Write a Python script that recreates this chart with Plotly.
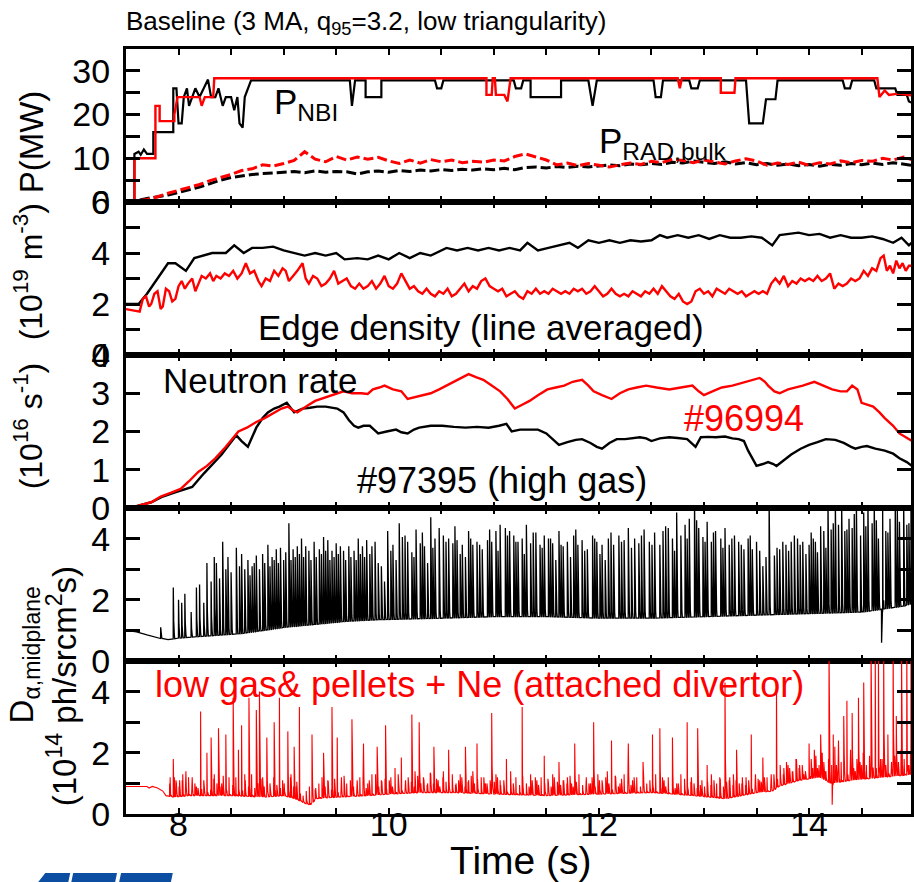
import numpy as np
import plotly.graph_objects as go

FONT = "Liberation Sans, Arial, Helvetica, sans-serif"
BLACK = "#000000"
RED = "#ff0000"

# ---------------- Panel 1: powers (MW) ----------------
NBI_B_T = [7.50, 7.58, 7.58, 7.62, 7.64, 7.67, 7.70, 7.76, 7.76, 7.95, 7.95, 7.98, 8.00, 8.03, 8.05, 8.08, 8.10, 8.13,
           8.16, 8.20, 8.24, 8.28, 8.31, 8.35, 8.38, 8.42, 8.45, 8.50, 8.53, 8.56, 8.58, 8.61, 8.63, 8.66, 8.69,
           9.63, 9.65, 9.68, 9.78, 9.78, 9.93, 9.93, 10.44, 10.46, 10.50, 10.52, 11.19, 11.21, 11.26, 11.28,
           11.35, 11.35, 11.64, 11.64, 11.90, 11.94, 11.98, 12.52, 12.54, 12.59, 12.61, 12.86, 12.88, 12.94, 12.96,
           13.40, 13.43, 13.56, 13.59, 13.68, 13.70, 14.32, 14.34, 14.39, 14.41, 14.62, 14.64, 14.82, 14.84,
           14.93, 14.95, 15.00]
NBI_B_V = [0, 0, 11, 11.5, 10.8, 12, 11, 11, 16, 16, 26, 26, 18, 18, 24, 26, 22, 24,
           26, 24, 26, 28, 24, 24, 26, 22, 24, 24, 21, 24, 18, 17, 24, 26, 27.8,
           27.8, 22, 27.8, 27.8, 24, 24, 27.8, 27.8, 26, 26, 27.8, 27.8, 26, 26, 27.8,
           27.8, 24, 24, 27.8, 27.8, 22, 27.8, 27.8, 24, 24, 27.8, 27.8, 26, 26, 27.8,
           27.8, 18, 18, 23.5, 23.5, 27.8, 27.8, 26, 26, 27.8, 27.8, 26, 26, 24.5,
           24.5, 23, 22.5]

NBI_R_T = [7.50, 7.58, 7.58, 7.78, 7.78, 7.82, 7.82, 7.96, 7.96, 7.99, 8.20, 8.22, 8.25, 8.33, 8.34,
           10.93, 10.93, 10.98, 10.99, 11.01, 11.02, 11.10, 11.13, 11.16, 12.75, 12.77, 12.79,
           13.16, 13.16, 13.29, 13.30, 14.65, 14.67, 14.72, 14.76, 14.85, 15.00]
NBI_R_V = [0, 0, 10, 10, 22, 22, 18.5, 18.5, 20, 24, 24, 22, 24, 24, 28.3,
           28.3, 24.5, 24.5, 28.3, 28.3, 24.5, 24.5, 23, 28.3, 28.3, 26, 28.3,
           28.3, 25, 25, 28.3, 28.3, 24, 25.5, 24.5, 24.8, 24.3]

PRAD_T = [7.5, 7.6, 7.7, 7.8, 7.9, 8.0, 8.1, 8.2, 8.3, 8.4, 8.5, 8.6, 8.7, 8.8, 8.9, 9.0, 9.1, 9.2, 9.3, 9.4,
          9.5, 9.6, 9.7, 9.8, 9.9, 10.0, 10.1, 10.2, 10.3, 10.4, 10.5, 10.6, 10.7, 10.8, 10.9, 11.0, 11.1, 11.2,
          11.3, 11.4, 11.5, 11.6, 11.7, 11.8, 11.9, 12.0, 12.1, 12.2, 12.3, 12.4, 12.5, 12.6, 12.7, 12.8, 12.9,
          13.0, 13.1, 13.2, 13.3, 13.4, 13.5, 13.6, 13.7, 13.8, 13.9, 14.0, 14.1, 14.2, 14.3, 14.4, 14.5, 14.6,
          14.7, 14.8, 14.9, 15.0]
PRAD_B = [0.0, 0.3, 0.8, 1.2, 1.6, 2.2, 2.8, 3.4, 4.2, 5.0, 5.6, 6.0, 6.3, 6.5, 6.6, 6.8, 7.0, 6.7, 7.1, 6.8,
          7.0, 6.9, 6.4, 6.9, 7.1, 6.8, 7.2, 7.0, 7.3, 7.1, 7.4, 7.2, 7.5, 7.3, 7.6, 7.4, 7.7, 7.4, 7.9,
          8.0, 7.8, 8.1, 7.9, 8.2, 8.0, 8.3, 8.5, 8.3, 8.7, 8.5, 8.8, 8.6, 9.1, 8.9, 9.4, 9.1, 8.8, 9.2, 8.7,
          9.0, 8.5, 8.8, 8.4, 8.7, 8.3, 8.6, 8.2, 8.6, 8.4, 8.8, 8.5, 8.9, 8.6, 9.0, 8.7, 8.3]
PRAD_R = [0.0, 0.2, 0.6, 1.2, 2.0, 2.7, 3.3, 4.0, 4.9, 5.6, 6.3, 7.2, 7.6, 8.5, 8.2, 8.8, 9.5, 11.5, 9.8, 9.2,
          10.4, 9.6, 10.3, 9.8, 10.2, 9.4, 8.8, 9.6, 8.9, 9.7, 9.2, 9.6, 9.0, 9.3, 9.1, 9.6, 9.4, 10.4,
          11.0, 10.3, 9.6, 8.5, 8.9, 8.3, 8.8, 8.4, 8.0, 8.5, 8.9, 8.6, 9.3, 9.0, 9.8, 9.5, 9.0, 9.6, 9.1, 8.7,
          9.4, 9.9, 9.4, 8.4, 8.9, 8.6, 9.1, 8.4, 9.0, 8.7, 9.4, 9.0, 9.5, 9.3, 10.0, 9.6, 10.3, 9.5]

# ---------------- Panel 2: edge density (1e19 m^-3) ----------------
NE_B_T = [7.50, 7.62, 7.70, 7.80, 7.90, 7.97, 8.07, 8.15, 8.25, 8.32, 8.45, 8.53, 8.62, 8.70, 8.80, 8.90, 9.00,
          9.10, 9.20, 9.30, 9.40, 9.50, 9.58, 9.70, 9.80, 9.90, 10.00, 10.10, 10.20, 10.30, 10.40, 10.55, 10.65,
          10.75, 10.85, 10.95, 11.05, 11.15, 11.25, 11.32, 11.42, 11.52, 11.62, 11.72, 11.80, 11.90, 12.00,
          12.10, 12.20, 12.30, 12.40, 12.50, 12.58, 12.65, 12.75, 12.85, 12.95, 13.05, 13.15, 13.25, 13.35,
          13.45, 13.55, 13.65, 13.72, 13.80, 13.90, 14.00, 14.10, 14.20, 14.30, 14.40, 14.50, 14.60, 14.70,
          14.80, 14.88, 14.95, 15.00]
NE_B_V = [2.0, 2.0, 2.4, 3.0, 3.6, 3.6, 3.3, 3.8, 3.9, 4.0, 4.0, 4.3, 4.0, 4.2, 4.2, 4.25, 4.1,
          4.0, 3.9, 4.0, 3.9, 4.0, 3.75, 3.8, 3.75, 3.9, 3.75, 4.0, 3.8, 4.0, 3.9, 4.2, 4.1,
          4.2, 4.1, 4.2, 4.1, 4.2, 4.1, 4.4, 4.1, 4.2, 4.3, 4.4, 4.2, 4.5, 4.4,
          4.5, 4.4, 4.5, 4.45, 4.5, 4.7, 4.6, 4.7, 4.6, 4.7, 4.55, 4.7, 4.6, 4.6,
          4.65, 4.6, 4.3, 4.7, 4.75, 4.8, 4.7, 4.75, 4.6, 4.7, 4.6, 4.6, 4.65, 4.55,
          4.4, 4.6, 4.3, 4.5]

NE_R_T = [7.50, 7.58, 7.63, 7.66, 7.69, 7.72, 7.74, 7.77, 7.80, 7.83, 7.85, 7.88, 7.91, 7.94, 7.97, 8.00, 8.03,
          8.06, 8.09, 8.13, 8.16, 8.19, 8.22, 8.26, 8.30, 8.33, 8.36, 8.40, 8.44, 8.48, 8.52, 8.56, 8.60, 8.64,
          8.68, 8.72, 8.76, 8.79, 8.83, 8.87, 8.91, 8.95, 8.99, 9.02, 9.05, 9.09, 9.13, 9.18, 9.21, 9.24, 9.28,
          9.32, 9.36, 9.40, 9.44, 9.48, 9.52, 9.56, 9.60, 9.64, 9.68, 9.72, 9.76, 9.80, 9.84, 9.88, 9.92, 9.96,
          10.00, 10.04, 10.08, 10.12, 10.16, 10.20, 10.24, 10.28, 10.32, 10.36, 10.40, 10.44, 10.48, 10.52,
          10.56, 10.60, 10.64, 10.68, 10.72, 10.76, 10.80, 10.84, 10.88, 10.92, 10.96, 11.00, 11.04, 11.08,
          11.12, 11.16, 11.20, 11.24, 11.28, 11.32, 11.36, 11.40, 11.44, 11.48, 11.52, 11.56, 11.60, 11.64,
          11.68, 11.72, 11.76, 11.80, 11.84, 11.88, 11.92, 11.96, 12.00, 12.04, 12.08, 12.12, 12.16, 12.20,
          12.24, 12.28, 12.32, 12.36, 12.40, 12.44, 12.48, 12.52, 12.56, 12.60, 12.64, 12.68, 12.72, 12.76,
          12.80, 12.84, 12.88, 12.92, 12.96, 13.00, 13.04, 13.08, 13.12, 13.16, 13.20, 13.24, 13.28, 13.32,
          13.36, 13.40, 13.44, 13.48, 13.52, 13.56, 13.60, 13.64, 13.68, 13.72, 13.76, 13.80, 13.84, 13.88,
          13.92, 13.96, 14.00, 14.04, 14.08, 14.12, 14.16, 14.20, 14.24, 14.28, 14.32, 14.36, 14.40, 14.44,
          14.48, 14.52, 14.56, 14.60, 14.64, 14.68, 14.71, 14.74, 14.77, 14.80, 14.83, 14.86, 14.89, 14.92,
          14.95, 14.98]
NE_R_V = [1.8, 1.75, 1.7, 2.2, 2.3, 1.9, 2.0, 2.4, 2.5, 1.8, 1.9, 2.6, 2.5, 2.1, 2.2, 2.7, 2.9,
          2.6, 2.8, 3.0, 2.5, 2.8, 3.1, 3.0, 3.2, 2.9, 3.1, 3.0, 3.2, 3.1, 3.3, 3.0, 3.2, 3.6,
          3.2, 3.3, 2.9, 2.7, 3.0, 2.9, 3.3, 3.1, 3.4, 3.3, 2.9, 3.1, 3.3, 3.6, 3.0, 2.8, 3.1,
          3.0, 2.7, 2.8, 3.0, 3.3, 2.8, 2.9, 3.0, 2.7, 2.6, 2.8, 2.6, 2.7, 2.9, 2.6, 2.8, 3.1,
          2.7, 2.6, 2.8, 3.2, 2.9, 2.6, 2.7, 2.5, 2.4, 2.6, 2.4, 2.3, 2.5, 2.4,
          2.6, 2.3, 2.4, 2.6, 2.8, 2.5, 2.7, 2.6, 2.9, 3.0, 2.7, 2.6, 2.5, 2.6,
          2.3, 2.4, 2.5, 2.3, 2.2, 2.5, 2.4, 2.6, 2.4, 2.5, 2.4, 2.6, 2.5, 2.4,
          2.5, 2.4, 2.6, 2.5, 2.6, 2.4, 2.5, 2.7, 2.5, 2.3, 2.4, 2.6, 2.4, 2.3,
          2.4, 2.3, 2.5, 2.4, 2.3, 2.5, 2.4, 2.6, 2.4, 2.7, 2.5, 2.3, 2.2, 2.4,
          2.1, 2.0, 2.1, 2.5, 2.6, 2.4, 2.5, 2.3, 2.6, 2.5, 2.4, 2.6, 2.5, 2.4,
          2.5, 2.3, 2.4, 2.5, 2.4, 2.5, 2.4, 2.8, 3.0, 2.8, 3.1, 2.7, 2.9, 2.8,
          3.0, 2.9, 3.0, 2.9, 3.1, 2.9, 3.0, 3.2, 2.6, 2.8, 2.7, 2.8, 3.0, 2.9,
          3.0, 3.3, 3.1, 3.4, 3.3, 3.8, 3.9, 3.3, 3.5, 3.2, 3.7, 3.4, 3.6, 3.3,
          3.5, 3.5]

# ---------------- Panel 3: neutron rate (1e16 s^-1) ----------------
NR_B_T = [7.50, 7.60, 7.74, 7.85, 7.96, 8.05, 8.13, 8.24, 8.33, 8.41, 8.48, 8.55, 8.60, 8.66, 8.74, 8.80, 8.85,
          8.91, 8.96, 9.03, 9.10, 9.18, 9.25, 9.32, 9.40, 9.46, 9.51, 9.57, 9.62, 9.67, 9.71, 9.76, 9.82, 9.86,
          9.90, 9.98, 10.07, 10.12, 10.18, 10.24, 10.29, 10.40, 10.51, 10.62, 10.73, 10.84, 10.95, 11.05, 11.12,
          11.17, 11.25, 11.34, 11.42, 11.50, 11.56, 11.62, 11.70, 11.78, 11.84, 11.92, 11.98, 12.03, 12.10,
          12.17, 12.25, 12.32, 12.39, 12.45, 12.50, 12.58, 12.67, 12.75, 12.84, 12.92, 12.97, 13.04, 13.11,
          13.20, 13.27, 13.33, 13.38, 13.42, 13.46, 13.50, 13.56, 13.61, 13.66, 13.69, 13.76, 13.83, 13.92,
          14.00, 14.08, 14.16, 14.25, 14.33, 14.40, 14.44, 14.50, 14.55, 14.63, 14.72, 14.80, 14.86, 14.93, 14.98]
NR_B_V = [0.0, 0.05, 0.15, 0.3, 0.4, 0.48, 0.55, 0.9, 1.15, 1.4, 1.65, 1.9, 1.75, 1.6, 2.1, 2.35, 2.5,
          2.6, 2.65, 2.75, 2.5, 2.6, 2.62, 2.65, 2.65, 2.63, 2.6, 2.5, 2.3, 2.15, 2.1, 2.15, 2.15, 2.05,
          1.95, 2.0, 2.05, 1.98, 1.95, 2.05, 2.1, 2.15, 2.15, 2.12, 2.1, 2.12, 2.1, 2.15, 2.2,
          2.0, 2.05, 2.05, 2.05, 1.95, 1.8, 1.65, 1.72, 1.78, 1.8, 1.7, 1.6, 1.55, 1.7,
          1.8, 1.8, 1.82, 1.85, 1.82, 1.75, 1.82, 1.85, 1.83, 1.8, 1.6, 1.85, 1.86, 1.85,
          1.87, 1.82, 1.8, 1.75, 1.5, 1.3, 1.1, 1.15, 1.2, 1.15, 1.1, 1.25, 1.4, 1.55,
          1.65, 1.72, 1.8, 1.78, 1.7, 1.6, 1.55, 1.6, 1.62, 1.55, 1.5, 1.42, 1.3, 1.2, 1.1]

NR_R_T = [7.50, 7.60, 7.74, 7.83, 7.93, 8.02, 8.10, 8.19, 8.27, 8.35, 8.45, 8.57, 8.65, 8.74, 8.82, 8.91,
          8.98, 9.04, 9.09, 9.13, 9.18, 9.24, 9.30, 9.35, 9.40, 9.46, 9.52, 9.57, 9.65, 9.74, 9.80, 9.85,
          9.91, 9.96, 10.04, 10.12, 10.18, 10.25, 10.32, 10.40, 10.48, 10.55, 10.62, 10.70, 10.76, 10.83,
          10.90, 10.98, 11.06, 11.13, 11.20, 11.27, 11.34, 11.42, 11.51, 11.59, 11.67, 11.75, 11.84, 11.90,
          11.95, 12.03, 12.12, 12.20, 12.28, 12.36, 12.45, 12.55, 12.67, 12.78, 12.89, 12.95, 13.00, 13.08,
          13.17, 13.27, 13.39, 13.46, 13.53, 13.58, 13.61, 13.67, 13.72, 13.80, 13.87, 13.94, 14.05, 14.13,
          14.22, 14.30, 14.36, 14.41, 14.46, 14.50, 14.55, 14.61, 14.67, 14.72, 14.80, 14.86, 14.92, 14.98]
NR_R_V = [0.0, 0.05, 0.15, 0.3, 0.4, 0.5, 0.7, 0.95, 1.1, 1.3, 1.6, 2.0, 2.1, 2.25, 2.35, 2.5,
          2.6, 2.65, 2.55, 2.5, 2.6, 2.7, 2.8, 2.85, 2.9, 2.95, 3.0, 3.05, 3.0, 3.0, 2.98, 3.1,
          3.15, 3.2, 3.1, 3.05, 2.85, 2.9, 2.95, 3.0, 3.1, 3.2, 3.3, 3.4, 3.5, 3.42,
          3.35, 3.2, 3.05, 2.85, 2.6, 2.7, 2.8, 2.95, 3.1, 3.15, 3.2, 3.3, 3.35, 3.2,
          3.05, 2.95, 2.85, 3.0, 3.1, 3.15, 3.2, 3.15, 3.1, 3.15, 3.2, 3.05, 2.95, 3.05,
          3.15, 3.2, 3.3, 3.35, 3.4, 3.3, 3.2, 3.05, 3.0, 3.1, 3.15, 3.2, 3.3, 3.2,
          3.1, 3.05, 3.05, 3.2, 3.1, 2.75, 2.7, 2.65, 2.5, 2.35, 2.15, 1.95, 1.85, 1.75]

# ---------------- Panel 4: D-alpha, #97395 (1e14 ph/sr cm^2 s) ----------------
DA_B_BASE_T = [7.50, 7.60, 7.70, 7.80, 7.90, 8.00, 8.20, 8.40, 8.60, 8.80, 9.00, 9.30, 9.60, 9.90, 10.50,
               11.00, 11.50, 12.00, 12.50, 13.00, 13.50, 14.00, 14.50, 14.90, 15.00]
DA_B_BASE_V = [1.0, 0.95, 0.85, 0.75, 0.7, 0.75, 0.8, 0.85, 0.9, 1.0, 1.1, 1.2, 1.3, 1.35, 1.4,
               1.45, 1.45, 1.4, 1.4, 1.45, 1.5, 1.55, 1.6, 1.8, 1.9]
DA_B_ELM_T = [7.83, 7.95, 8.00, 8.03, 8.06, 8.12, 8.17, 8.20, 8.24, 8.27, 8.31, 8.34, 8.36, 8.39, 8.42, 8.45,
              8.47, 8.50, 8.55, 8.58, 8.60, 8.63, 8.66, 8.68, 8.70, 8.72, 8.74, 8.77, 8.80, 8.82, 8.85, 8.87,
              8.89, 8.91, 8.93, 8.95, 8.97, 9.00, 9.02, 9.05, 9.07, 9.09, 9.11, 9.13, 9.15, 9.17, 9.19, 9.21,
              9.24, 9.26, 9.29, 9.31, 9.34, 9.36, 9.38, 9.40, 9.42, 9.44, 9.46, 9.48, 9.50, 9.52, 9.54, 9.57,
              9.59, 9.62, 9.64, 9.67, 9.69, 9.71, 9.73, 9.75, 9.77, 9.79, 9.82, 9.84, 9.87, 9.90, 9.93, 9.96,
              9.99, 10.04, 10.07, 10.10, 10.13, 10.18, 10.22, 10.26, 10.30, 10.34, 10.37, 10.40, 10.44, 10.48,
              10.52, 10.57, 10.61, 10.65, 10.70, 10.73, 10.76, 10.80, 10.84, 10.89, 10.94, 10.98, 11.02, 11.06,
              11.11, 11.15, 11.19, 11.23, 11.27, 11.31, 11.35, 11.40, 11.44, 11.48, 11.52, 11.56, 11.59, 11.62,
              11.66, 11.70, 11.73, 11.76, 11.80, 11.84, 11.89, 11.94, 11.98, 12.03, 12.06, 12.09, 12.14, 12.19,
              12.24, 12.28, 12.34, 12.38, 12.43, 12.48, 12.53, 12.58, 12.61, 12.66, 12.70, 12.74, 12.78, 12.82,
              12.86, 12.91, 12.95, 12.99, 13.03, 13.07, 13.11, 13.16, 13.20, 13.24, 13.29, 13.33, 13.38, 13.42,
              13.46, 13.50, 13.56, 13.62, 13.67, 13.72, 13.78, 13.83, 13.89, 13.94, 14.00, 14.04, 14.08, 14.14,
              14.18, 14.21, 14.25, 14.28, 14.31, 14.34, 14.38, 14.41, 14.45, 14.49, 14.52, 14.56, 14.60, 14.62,
              14.66, 14.69, 14.70, 14.73, 14.77, 14.82, 14.86, 14.90, 14.93, 14.97]
DA_B_ELM_V = [1.1, 2.4, 2.0, 1.9, 2.2, 1.6, 2.4, 2.5, 1.9, 3.2, 2.6, 3.4, 3.2, 2.7, 3.9, 3.0,
              3.4, 2.9, 3.7, 3.1, 3.5, 3.0, 3.3, 2.8, 3.1, 3.2, 3.45, 3.0, 3.5, 3.2, 3.8, 3.1,
              3.4, 3.3, 3.65, 3.2, 3.7, 3.3, 3.55, 4.5, 3.3, 3.65, 3.4, 3.75, 3.5, 4.0, 3.4, 3.75,
              3.6, 3.3, 3.9, 3.4, 3.65, 3.5, 4.05, 3.6, 3.95, 3.3, 3.6, 3.4, 3.85, 3.5, 3.75, 3.6,
              3.3, 3.75, 3.4, 3.6, 3.3, 4.0, 3.5, 3.75, 3.4, 3.95, 3.5, 3.75, 3.9, 3.2, 3.1, 2.6,
              4.25, 3.8, 3.3, 4.5, 4.05, 3.9, 3.55, 4.3, 3.85, 3.75, 3.2, 4.7, 4.0, 4.35,
              4.1, 4.0, 3.85, 3.95, 3.8, 3.4, 4.25, 3.8, 3.9, 3.65, 3.95, 3.9, 4.25, 4.45,
              4.35, 4.25, 4.1, 3.9, 4.0, 4.45, 3.85, 4.2, 3.8, 4.1, 4.0, 3.85, 3.3, 4.25,
              3.75, 3.9, 3.4, 4.1, 3.8, 3.95, 3.65, 4.1, 3.9, 3.8, 3.3, 4.0, 3.8, 4.1,
              3.95, 4.35, 4.0, 3.85, 4.3, 3.9, 4.2, 3.8, 4.25, 4.35, 4.0, 4.85, 4.1, 4.45,
              4.65, 5.3, 4.35, 4.05, 4.55, 3.9, 4.25, 4.0, 4.35, 3.8, 4.1, 3.9, 3.65, 4.0,
              3.65, 3.9, 3.1, 5.3, 3.45, 3.65, 3.8, 3.9, 4.0, 3.9, 3.8, 4.0, 3.55, 4.25,
              5.3, 4.3, 5.3, 4.45, 5.3, 4.25, 4.65, 4.35, 5.3, 4.1, 4.85, 5.3, 4.5, 5.3,
              4.0, 0.6, 5.3, 4.25, 4.65, 5.3, 4.55, 5.3, 4.45, 5.3]
DA_B_ELM2_T = [10.02, 10.155, 10.24, 10.32, 10.42, 10.545, 10.63, 10.68, 10.78, 10.865,
               10.96, 11.04, 11.13, 11.21, 11.29, 11.375, 11.46, 11.54, 11.64, 11.78,
               11.865, 11.96, 12.01, 12.115, 12.215, 12.31, 12.405, 12.505, 12.635, 12.72,
               12.84, 12.93, 13.01, 13.09, 13.18, 13.265, 13.355, 13.44, 13.53, 13.59,
               13.695, 13.75, 13.805, 13.86, 13.915, 13.97, 14.02, 14.06, 14.11, 14.16,
               14.23, 14.36, 14.43, 14.54, 14.64, 14.75, 14.84, 14.95]
DA_B_ELM2_V = [3.6, 4.1, 3.4, 4.2, 3.7, 3.9, 4.4, 3.5, 4.0, 3.8,
               4.3, 3.6, 4.1, 3.9, 3.5, 4.2, 3.7, 4.0, 3.8, 4.3,
               3.6, 4.0, 3.5, 4.2, 3.9, 3.7, 4.1, 3.8, 4.4, 3.6,
               4.0, 4.6, 3.9, 4.2, 3.7, 4.0, 3.8, 4.1, 3.6, 3.4,
               3.7, 3.9, 3.6, 4.1, 3.8, 3.5, 4.2, 3.9, 4.4, 3.7,
               4.5, 4.3, 4.8, 4.4, 4.6, 4.2, 4.9, 4.5]

# ---------------- Panel 5: D-alpha, #96994 ----------------
DA_R_BASE_T = [7.50, 7.70, 7.72, 7.75, 7.80, 7.85, 7.88, 7.95, 8.10, 8.30, 8.50, 8.80, 9.00, 9.10, 9.20, 9.25,
               9.30, 9.50, 9.80, 10.00, 10.30, 10.60, 11.00, 11.50, 12.00, 12.50, 12.90, 13.20, 13.50, 13.65,
               13.70, 13.90, 14.10, 14.20, 14.40, 14.70, 15.00]
DA_R_BASE_V = [0.9, 0.9, 0.85, 0.9, 0.85, 0.75, 0.6, 0.55, 0.6, 0.6, 0.6, 0.55, 0.6, 0.5, 0.35, 0.3,
               0.5, 0.55, 0.6, 0.65, 0.7, 0.7, 0.65, 0.6, 0.65, 0.7, 0.6, 0.5, 0.7, 0.75,
               0.9, 1.1, 1.2, 1.0, 1.1, 1.2, 1.3]
DA_R_ELM_T = [7.92, 7.95, 7.96, 7.98, 8.01, 8.04, 8.07, 8.10, 8.13, 8.17, 8.21, 8.24, 8.27, 8.31, 8.34, 8.38,
              8.41, 8.45, 8.48, 8.52, 8.55, 8.57, 8.60, 8.63, 8.67, 8.70, 8.74, 8.77, 8.80, 8.84, 8.87, 8.91,
              8.96, 8.99, 9.04, 9.07, 9.10, 9.12, 9.15, 9.27, 9.30, 9.34, 9.38, 9.42, 9.46, 9.51, 9.55, 9.60,
              9.65, 9.70, 9.73, 9.76, 9.80, 9.84, 9.89, 9.93, 9.97, 10.02, 10.06, 10.09, 10.12, 10.16, 10.22,
              10.25, 10.29, 10.33, 10.37, 10.40, 10.43, 10.47, 10.52, 10.57, 10.60, 10.64, 10.68, 10.73, 10.76,
              10.80, 10.84, 10.88, 10.92, 10.98, 11.02, 11.06, 11.12, 11.16, 11.21, 11.27, 11.31, 11.35, 11.41,
              11.45, 11.48, 11.52, 11.56, 11.62, 11.66, 11.70, 11.74, 11.77, 11.81, 11.88, 11.92, 11.95, 11.99,
              12.03, 12.08, 12.12, 12.16, 12.20, 12.24, 12.28, 12.32, 12.36, 12.42, 12.46, 12.51, 12.54, 12.58,
              12.62, 12.66, 12.70, 12.74, 12.78, 12.84, 12.88, 12.94, 12.98, 13.03, 13.07, 13.12, 13.15, 13.20,
              13.24, 13.28, 13.31, 13.36, 13.40, 13.45, 13.49, 13.53, 13.56, 13.60, 13.64, 13.69, 13.73, 13.76,
              13.80, 13.84, 13.88, 13.91, 13.95, 14.00, 14.02, 14.05, 14.08, 14.11, 14.14, 14.16, 14.19, 14.22,
              14.23, 14.26, 14.28, 14.31, 14.33, 14.36, 14.39, 14.41, 14.44, 14.47, 14.50, 14.52, 14.55, 14.59,
              14.61, 14.63, 14.66, 14.68, 14.71, 14.73, 14.75, 14.78, 14.80, 14.83, 14.85, 14.88, 14.91, 14.93,
              14.95, 14.97]
DA_R_ELM_V = [1.2, 1.8, 1.2, 1.0, 1.1, 1.3, 1.4, 1.0, 1.2, 0.9, 3.35, 1.1, 2.0, 2.5, 1.3, 2.8,
              1.0, 2.6, 1.2, 3.8, 1.0, 2.1, 2.9, 1.3, 3.8, 1.1, 3.4, 4.0, 1.2, 2.5, 1.0, 3.0,
              3.8, 1.1, 2.7, 1.3, 2.2, 0.9, 3.5, 2.6, 0.8, 1.0, 2.0, 1.1, 3.5, 2.5, 1.2, 1.0,
              3.1, 1.1, 1.2, 2.3, 1.0, 1.3, 2.2, 1.1, 2.9, 1.2, 1.5, 1.3, 1.85, 1.1, 3.25,
              1.4, 3.0, 1.2, 1.0, 1.3, 2.2, 1.1, 1.4, 2.1, 1.2, 1.0, 1.3, 2.2, 1.1,
              1.4, 2.3, 1.2, 1.0, 3.3, 1.3, 1.1, 1.8, 1.4, 1.2, 3.5, 1.0, 1.3, 1.1,
              1.2, 1.9, 1.0, 1.3, 1.7, 1.1, 1.2, 1.0, 2.3, 1.3, 1.2, 1.0, 3.0, 1.3,
              1.1, 1.4, 2.4, 1.2, 1.0, 1.3, 2.3, 1.1, 1.2, 1.7, 1.0, 2.6, 1.3, 2.8,
              1.1, 1.2, 2.5, 1.0, 1.3, 3.0, 1.2, 2.8, 1.1, 1.6, 1.3, 1.0, 1.2, 4.3,
              1.1, 1.3, 2.1, 1.0, 1.2, 2.6, 1.3, 1.1, 1.85, 1.2, 1.3, 4.35, 1.2, 1.5,
              1.6, 1.4, 1.8, 1.6, 1.3, 2.3, 1.8, 2.1, 1.5, 2.6, 1.7, 1.4, 5.3, 0.3,
              2.6, 1.6, 2.4, 1.5, 3.2, 3.7, 1.7, 3.3, 1.4, 3.8, 1.6, 4.3, 1.3, 5.3,
              1.5, 5.3, 5.3, 1.8, 5.3, 1.6, 2.6, 1.4, 5.3, 3.2, 1.7, 5.3, 1.5, 5.3,
              1.6, 5.3]
# small inter-ELM "grass" on the red trace
GRASS_R_T = [7.915, 7.945, 7.975,
             8.005, 8.035, 8.065, 8.095, 8.125, 8.155, 8.185, 8.215, 8.245, 8.275, 8.305, 8.335, 8.365, 8.395,
             8.425, 8.455, 8.485, 8.515, 8.545, 8.575, 8.605, 8.635, 8.665, 8.695, 8.725, 8.755, 8.785, 8.815,
             8.845, 8.875, 8.905, 8.935, 8.965,
             9.005, 9.035, 9.065, 9.095, 9.125, 9.155, 9.185, 9.215, 9.245, 9.275, 9.305, 9.335, 9.365, 9.395,
             9.425, 9.455, 9.485, 9.515, 9.545, 9.575, 9.605, 9.635, 9.665, 9.695, 9.725, 9.755, 9.785, 9.815,
             9.845, 9.875, 9.905, 9.935, 9.965,
             10.005, 10.035, 10.065, 10.095, 10.125, 10.155, 10.185, 10.215, 10.245, 10.275, 10.305, 10.335,
             10.365, 10.395, 10.425, 10.455, 10.485, 10.515, 10.545, 10.575, 10.605, 10.635, 10.665, 10.695,
             10.725, 10.755, 10.785, 10.815, 10.845, 10.875, 10.905, 10.935, 10.965,
             11.005, 11.035, 11.065, 11.095, 11.125, 11.155, 11.185, 11.215, 11.245, 11.275, 11.305, 11.335,
             11.365, 11.395, 11.425, 11.455, 11.485, 11.515, 11.545, 11.575, 11.605, 11.635, 11.665, 11.695,
             11.725, 11.755, 11.785, 11.815, 11.845, 11.875, 11.905, 11.935, 11.965,
             12.005, 12.035, 12.065, 12.095, 12.125, 12.155, 12.185, 12.215, 12.245, 12.275, 12.305, 12.335,
             12.365, 12.395, 12.425, 12.455, 12.485, 12.515, 12.545, 12.575, 12.605, 12.635, 12.665, 12.695,
             12.725, 12.755, 12.785, 12.815, 12.845, 12.875, 12.905, 12.935, 12.965,
             13.005, 13.035, 13.065, 13.095, 13.125, 13.155, 13.185, 13.215, 13.245, 13.275, 13.305, 13.335,
             13.365, 13.395, 13.425, 13.455, 13.485, 13.515, 13.545, 13.575, 13.605, 13.635, 13.665, 13.695,
             13.725, 13.755, 13.785, 13.815, 13.845, 13.875, 13.905, 13.935, 13.965,
             14.005, 14.035, 14.065, 14.095, 14.125, 14.155, 14.185, 14.215, 14.245, 14.275, 14.305, 14.335,
             14.365, 14.395, 14.425, 14.455, 14.485, 14.515, 14.545, 14.575, 14.605, 14.635, 14.665, 14.695,
             14.725, 14.755, 14.785, 14.815, 14.845, 14.875, 14.905, 14.935, 14.965]
GRASS_R_V = [1.0, 0.8, 1.1,
             0.9, 1.1, 0.8, 1.2, 0.95, 1.0, 0.85, 1.3, 0.9, 1.05, 0.8, 1.15, 1.0, 0.9, 1.25, 0.85, 1.1, 0.95,
             1.2, 0.8, 1.0, 1.1, 0.9, 1.3, 0.85, 1.0, 1.15, 0.9, 1.05, 0.8, 1.2, 0.95, 1.1,
             1.0, 0.85, 1.2, 0.9, 1.05, 0.7, 0.6, 0.75, 0.9, 1.1, 0.85, 1.0, 1.2, 0.9, 1.05, 0.8, 1.15, 0.95,
             1.0, 1.25, 0.85, 1.1, 0.9, 1.0, 1.2, 0.95, 0.85, 1.1, 1.0, 1.3, 0.9, 1.05, 1.15,
             1.1, 0.9, 1.3, 1.0, 1.15, 0.95, 1.2, 1.05, 0.9, 1.25, 1.0, 1.1, 0.95, 1.35, 1.0, 1.15, 0.9, 1.2,
             1.05, 1.0, 1.3, 0.95, 1.1, 1.2, 0.9, 1.05, 1.25, 1.0, 1.15, 0.95, 1.2, 1.0, 1.1,
             1.05, 1.2, 0.95, 1.1, 1.3, 0.9, 1.0, 1.15, 0.95, 1.25, 1.0, 0.9, 1.1, 1.2, 0.95, 1.05, 1.0, 1.15,
             0.9, 1.2, 1.05, 0.95, 1.1, 1.0, 1.25, 0.9, 1.05, 1.15, 0.95, 1.1, 1.0, 1.2, 0.9,
             1.1, 0.95, 1.2, 1.0, 1.05, 1.25, 0.9, 1.15, 1.0, 1.1, 0.95, 1.2, 1.05, 0.9, 1.3, 1.0, 1.1, 0.95,
             1.15, 1.0, 1.2, 0.9, 1.05, 1.1, 0.85, 1.0, 0.95, 1.15, 0.9, 1.05, 1.0, 0.85, 0.95,
             0.9, 1.05, 0.95, 1.1, 1.0, 1.15, 0.9, 1.05, 1.2, 0.95, 1.1, 1.0, 1.2, 0.95, 1.1, 1.25, 1.0, 1.15,
             1.05, 1.2, 1.1, 1.0, 1.3, 1.4, 1.6, 1.3, 1.7, 1.5, 1.4, 1.8, 1.5, 1.6, 1.4,
             1.7, 1.5, 1.9, 1.6, 2.0, 1.4, 1.8, 1.6, 2.2, 1.5, 1.7, 1.9, 1.6, 2.1, 1.5, 1.8, 1.7, 2.0,
             1.6, 1.9, 1.5, 2.2, 1.7, 1.8, 1.6, 2.0, 1.7, 1.9, 1.5, 2.1, 1.8, 1.6, 2.0]

X_TICKS = [7.5, 8.0, 8.5, 9.0, 9.5, 10.0, 10.5, 11.0, 11.5, 12.0, 12.5, 13.0, 13.5, 14.0, 14.5, 15.0]
X_LABELS = ["", "8", "", "", "", "10", "", "", "", "12", "", "", "", "14", "", ""]

Y_RANGES = [[0, 35], [0, 6], [0, 4], [0, 5], [0, 5]]
Y_TICKS = [[0, 5, 10, 15, 20, 25, 30], [0, 1, 2, 3, 4, 5, 6], [0, 1, 2, 3, 4], [0, 1, 2, 3, 4], [0, 1, 2, 3, 4]]
Y_LABELS = [["0", "", "10", "", "20", "", "30"], ["0", "", "2", "", "4", "", "6"], ["0", "1", "2", "3", "4"],
            ["0", "", "2", "", "4"], ["0", "", "2", "", "4"]]
DOMAINS = [[0.8, 1.0], [0.6, 0.8], [0.4, 0.6], [0.2, 0.4], [0.0, 0.2]]


def spiky(base_t, base_v, elm_t, elm_v):
    """Merge a slow baseline with narrow ELM spikes (vertical rise, fast decay)."""
    pts = list(zip(base_t, base_v))
    for t, p in zip(elm_t, elm_v):
        b = float(np.interp(t, base_t, base_v))
        pts += [(t - 0.001, b), (t, p), (t + 0.004, b + 0.35 * (p - b)), (t + 0.010, b + 0.08 * (p - b)),
                (t + 0.014, b)]
    pts.sort(key=lambda q: q[0])
    return [q[0] for q in pts], [q[1] for q in pts]


fig = go.Figure()


def add(x, y, k, color, width, dash=None):
    fig.add_trace(go.Scatter(
        x=x, y=y, mode="lines",
        xaxis="x" if k == 1 else f"x{k}", yaxis="y" if k == 1 else f"y{k}",
        line=dict(color=color, width=width, dash=dash),
        showlegend=False, hoverinfo="skip"))


add(NBI_B_T, NBI_B_V, 1, BLACK, 2.2)
add(NBI_R_T, NBI_R_V, 1, RED, 2.4)
add(PRAD_T, PRAD_B, 1, BLACK, 3, "10px,4px")
add(PRAD_T, PRAD_R, 1, RED, 3, "10px,4px")
add(NE_B_T, NE_B_V, 2, BLACK, 2.4)
add(NE_R_T, NE_R_V, 2, RED, 2.4)
add(NR_B_T, NR_B_V, 3, BLACK, 2.4)
add(NR_R_T, NR_R_V, 3, RED, 2.4)
bx, by = spiky(DA_B_BASE_T, DA_B_BASE_V, DA_B_ELM_T + DA_B_ELM2_T, DA_B_ELM_V + DA_B_ELM2_V)
add(bx, by, 4, BLACK, 1.3)
rx, ry = spiky(DA_R_BASE_T, DA_R_BASE_V, DA_R_ELM_T + GRASS_R_T, DA_R_ELM_V + GRASS_R_V)
add(rx, ry, 5, RED, 1.1)

W, H = 914, 882
ML, MR, MT, MB = 126, 0, 49, 68
PW, PH = W - ML - MR, H - MT - MB

layout = dict(width=W, height=H, margin=dict(l=ML, r=MR, t=MT, b=MB, pad=0),
              paper_bgcolor="white", plot_bgcolor="white",
              font=dict(family=FONT, color="black"))
for k in range(1, 6):
    sx = "" if k == 1 else str(k)
    layout["xaxis" + sx] = dict(
        domain=[0, 1], range=[7.5, 14.97], anchor="y" + sx,
        showline=True, linewidth=3, linecolor="black", mirror="ticks",
        ticks="inside", ticklen=6, tickwidth=2, tickcolor="black",
        tickmode="array", tickvals=X_TICKS, ticktext=X_LABELS,
        showticklabels=(k == 5), showgrid=False, zeroline=False, ticklabelstandoff=-22,
        tickfont=dict(size=34, family=FONT, color="black"))
    layout["yaxis" + sx] = dict(
        domain=DOMAINS[k - 1], range=Y_RANGES[k - 1], anchor="x" + sx,
        showline=True, linewidth=3, linecolor="black", mirror="ticks",
        ticks="inside", ticklen=14, tickwidth=3, tickcolor="black",
        tickmode="array", tickvals=Y_TICKS[k - 1], ticktext=Y_LABELS[k - 1],
        showgrid=False, zeroline=False, ticklabelstandoff=6,
        tickfont=dict(size=34, family=FONT, color="black"))
fig.update_layout(**layout)


def px(x):
    return (x - ML) / PW


def py(y):
    return (H - MB - y) / PH


def ann(text, x, y, size, color="black", xa="left", ya="middle", angle=0):
    fig.add_annotation(text=text, x=px(x), y=py(y), xref="paper", yref="paper",
                       xanchor=xa, yanchor=ya, showarrow=False, textangle=angle,
                       font=dict(size=size, color=color, family=FONT))


ann("Baseline (3 MA, q<sub>95</sub>=3.2, low triangularity)", 124, 23, 26)
ann("P<sub>NBI</sub>", 273, 104, 35)
ann("P<sub>RAD,bulk</sub>", 599, 143, 35)
ann("Edge density (line averaged)", 482, 327, 35, xa="center")
ann("Neutron rate", 161, 380, 35)
ann("#96994", 684, 419, 36, color=RED)
ann("#97395 (high gas)", 356, 480, 36)
ann("low gas&amp; pellets + Ne (attached divertor)", 153, 684, 36, color=RED)
ann("Time (s)", 523, 860, 39, xa="center")
ann("P(MW)", 31, 142, 33, xa="center", angle=-90)
ann("(10<sup>19</sup> m<sup>-3</sup>)", 28, 272, 32, xa="center", angle=-90)
ann("(10<sup>16</sup> s<sup>-1</sup>)", 28, 426, 32, xa="center", angle=-90)
ann("D<sub>α,midplane</sub>", 24, 655, 33, xa="center", angle=-90)
ann("(10<sup>14</sup> ph/srcm<sup>2</sup>s)", 62, 686, 33, xa="center", angle=-90)

# partial logo at bottom-left (decoration)
LOGO = "#0b4ea2"
for pts in ([(45, 873), (70, 873), (66, 892), (30, 892)],
            [(73, 873), (117, 873), (113, 892), (69, 892)],
            [(121, 873), (173, 873), (169, 892), (117, 892)]):
    path = "M " + " L ".join(f"{px(a):.4f},{py(b):.4f}" for a, b in pts) + " Z"
    fig.add_shape(type="path", path=path, xref="paper", yref="paper",
                  fillcolor=LOGO, line=dict(width=0), layer="above")

fig.write_html("out.html")
